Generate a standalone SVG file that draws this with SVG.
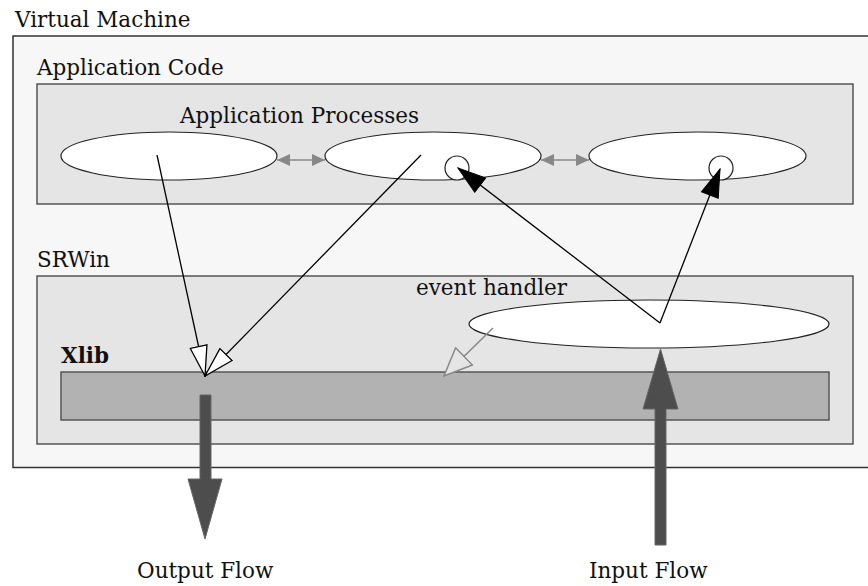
<svg xmlns="http://www.w3.org/2000/svg" width="868" height="586" viewBox="0 0 868 586">
  <style>
    text { font-family: "DejaVu Serif", "Liberation Serif", serif; font-size: 21.5px; fill: #111; }
    .box { stroke: #555; stroke-width: 1.5; }
    .ell { fill: #fff; stroke: #222; stroke-width: 1.2; }
    .ln { stroke: #000; stroke-width: 1.3; fill: none; }
    .gl { stroke: #888; stroke-width: 1.5; fill: none; }
    .thick { fill: #4d4d4d; stroke: #666; stroke-width: 1; }
  </style>
  <defs>
    <marker id="hollow" markerUnits="userSpaceOnUse" viewBox="-1 -1 32 19" markerWidth="32" markerHeight="19" refX="30" refY="8.5" orient="auto">
      <path d="M0,0 L30,8.5 L0,17 Z" fill="#fff" stroke="#000" stroke-width="1.3"/>
    </marker>
    <marker id="hollowGrey" markerUnits="userSpaceOnUse" viewBox="-1 -1 30 26" markerWidth="30" markerHeight="26" refX="28" refY="12" orient="auto">
      <path d="M0,0 L28,12 L0,24 Z" fill="#e5e5e5" stroke="#888" stroke-width="1.5"/>
    </marker>
    <marker id="solid" markerUnits="userSpaceOnUse" viewBox="-1 -1 30 20" markerWidth="30" markerHeight="20" refX="28" refY="9" orient="auto">
      <path d="M0,0 L28,9 L0,18 Z" fill="#000" stroke="#000" stroke-width="1"/>
    </marker>
    <marker id="greyHead" markerUnits="userSpaceOnUse" viewBox="0 0 13 12" markerWidth="13" markerHeight="12" refX="13" refY="6" orient="auto-start-reverse">
      <path d="M0,0 L13,6 L0,12 Z" fill="#888"/>
    </marker>
  </defs>

  <rect width="868" height="586" fill="#fff"/>

  <g id="virtual-machine">
    <rect x="13" y="36" width="870" height="431.5" fill="#f7f7f7" stroke="#333" stroke-width="1.5"/>
    <text x="15" y="27">Virtual Machine</text>
  </g>

  <g id="application-code">
    <rect class="box" x="37" y="84" width="816" height="120" fill="#e5e5e5"/>
    <text x="37" y="75">Application Code</text>
    <text x="180" y="123">Application Processes</text>
  </g>

  <g id="process-1">
    <ellipse class="ell" cx="169" cy="156" rx="108" ry="24"/>
  </g>
  <g id="process-2">
    <ellipse class="ell" cx="433" cy="156" rx="108" ry="24"/>
    <circle class="ell" cx="457" cy="168" r="12"/>
  </g>
  <g id="process-3">
    <ellipse class="ell" cx="697.5" cy="156" rx="108.5" ry="24"/>
    <circle class="ell" cx="721" cy="168" r="12"/>
  </g>

  <g id="srwin">
    <rect class="box" x="37" y="276" width="816" height="168" fill="#e5e5e5"/>
    <text x="37" y="267">SRWin</text>
  </g>

  <g id="event-handler">
    <ellipse class="ell" cx="649" cy="324" rx="180" ry="24"/>
    <text x="416" y="295">event handler</text>
  </g>

  <g id="xlib">
    <rect class="box" x="61" y="372" width="768" height="48" fill="#b2b2b2"/>
    <text x="61" y="363" font-weight="bold">Xlib</text>
  </g>

  <g id="connectors">
    <line class="gl" x1="277" y1="160" x2="325" y2="160" marker-start="url(#greyHead)" marker-end="url(#greyHead)"/>
    <line class="gl" x1="541" y1="160" x2="589" y2="160" marker-start="url(#greyHead)" marker-end="url(#greyHead)"/>
    <line class="ln" x1="157" y1="155" x2="205" y2="376" marker-end="url(#hollow)"/>
    <line class="ln" x1="421" y1="155" x2="205" y2="376" marker-end="url(#hollow)"/>
    <line class="ln" x1="660" y1="323" x2="458" y2="168" marker-end="url(#solid)"/>
    <line class="ln" x1="660" y1="323" x2="720" y2="169" marker-end="url(#solid)"/>
    <line class="gl" x1="493" y1="328" x2="444" y2="376" marker-end="url(#hollowGrey)"/>
    <path class="thick" d="M200,395 L211,395 L211,479 L222,479 L205,539 L188,479 L200,479 Z"/>
    <path class="thick" d="M655,545 L666,545 L666,409 L678,409 L660.5,349 L643,409 L655,409 Z"/>
  </g>

  <g id="flow-labels">
    <text x="137" y="578">Output Flow</text>
    <text x="589" y="578">Input Flow</text>
  </g>
</svg>
